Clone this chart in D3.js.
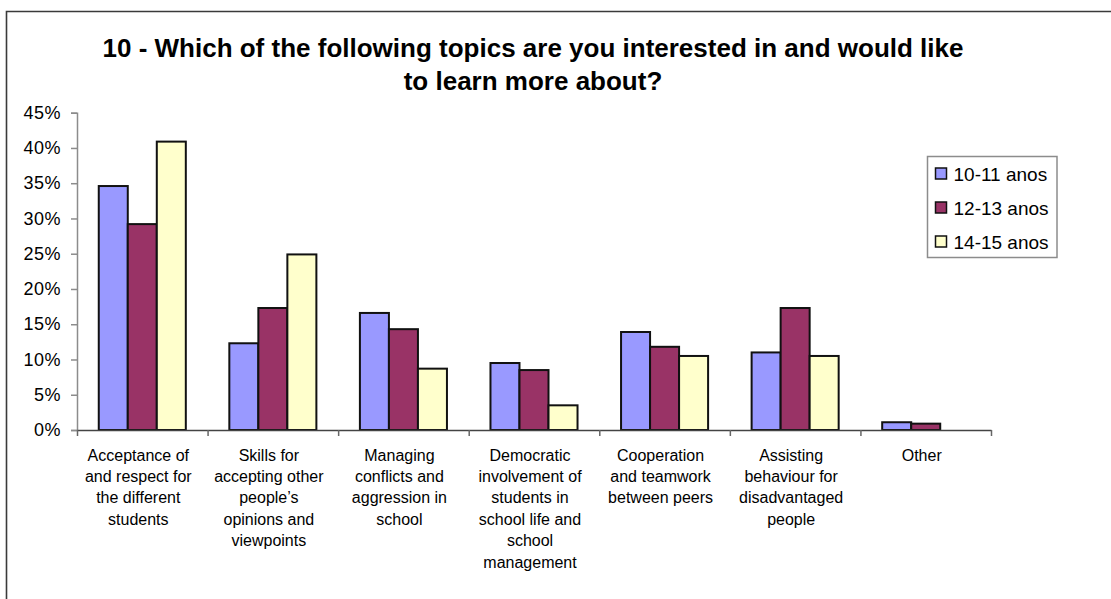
<!DOCTYPE html>
<html>
<head>
<meta charset="utf-8">
<script src="https://cdn.jsdelivr.net/npm/d3@7"></script>
<style>
  html, body { margin: 0; padding: 0; background: #fff; }
  svg { display: block; }
</style>
</head>
<body>
<div id="chart"></div>
<script>
// Survey question 10 — grouped bars by age group

const TITLE = [
  '10 - Which of the following topics are you interested in and would like',
  'to learn more about?'
];

const categories = [
  ['Acceptance of', 'and respect for', 'the different', 'students'],
  ['Skills for', 'accepting other', 'people\u2019s', 'opinions and', 'viewpoints'],
  ['Managing', 'conflicts and', 'aggression in', 'school'],
  ['Democratic', 'involvement of', 'students in', 'school life and', 'school', 'management'],
  ['Cooperation', 'and teamwork', 'between peers'],
  ['Assisting', 'behaviour for', 'disadvantaged', 'people'],
  ['Other']
];

const seriesNames = ['10-11 anos', '12-13 anos', '14-15 anos'];

const age10_11 = [0.346, 0.123, 0.166, 0.095, 0.139, 0.110, 0.011];
const age12_13 = [0.292, 0.173, 0.143, 0.085, 0.118, 0.173, 0.009];
const age14_15 = [0.409, 0.249, 0.087, 0.035, 0.105, 0.105, 0.000];

const yTicks = [0, 0.05, 0.10, 0.15, 0.20, 0.25, 0.30, 0.35, 0.40, 0.45];

const COLORS = ['#9999FF', '#993366', '#FFFFCC'];
const FONT = "Arial, 'Liberation Sans', sans-serif";

const W = 1111, H = 599;
const plot = { left: 77, right: 991, top: 112.7, bottom: 430 };

const svg = d3.select('#chart').append('svg')
  .attr('width', W)
  .attr('height', H);

// chart frame (cut off at right and bottom)
svg.append('path')
  .attr('d', `M6.5,${H} V11.5 H${W}`)
  .attr('fill', 'none')
  .attr('stroke', '#3a3a3a')
  .attr('stroke-width', 1.6);

// Title
svg.append('text')
  .attr('text-anchor', 'middle')
  .style('font-family', FONT)
  .style('font-weight', 'bold')
  .style('font-size', '26px')
  .style('fill', '#000')
  .selectAll('tspan')
  .data(TITLE)
  .join('tspan')
  .attr('x', 533)
  .attr('y', (d, i) => 57 + i * 33)
  .text(d => d);

const idx = d3.range(categories.length);

const x0 = d3.scaleBand()
  .domain(idx)
  .range([plot.left, plot.right])
  .paddingInner(0)
  .paddingOuter(0);

const x1 = d3.scaleBand()
  .domain(d3.range(seriesNames.length))
  .range([0, x0.bandwidth()])
  .paddingInner(0)
  .paddingOuter(0.75);

const y = d3.scaleLinear()
  .domain([0, 0.45])
  .range([plot.bottom, plot.top]);

// Y axis
const yAxis = svg.append('g')
  .attr('transform', `translate(${plot.left},0)`)
  .call(d3.axisLeft(y)
    .tickValues(yTicks)
    .tickSize(6)
    .tickPadding(10)
    .tickFormat(d3.format('.0%')));
yAxis.select('.domain').attr('stroke', '#8c8c8c').attr('stroke-width', 1.5);
yAxis.selectAll('.tick line').attr('stroke', '#8c8c8c').attr('stroke-width', 1.5);
yAxis.selectAll('text')
  .style('font-family', FONT)
  .style('font-size', '18px')
  .style('letter-spacing', '0.5px')
  .style('fill', '#000');

// Bars
const data = [age10_11, age12_13, age14_15];
const groups = svg.append('g')
  .selectAll('g')
  .data(idx)
  .join('g')
  .attr('transform', i => `translate(${x0(i)},0)`);

groups.selectAll('rect')
  .data(i => data.map((s, k) => ({ k, v: s[i] })).filter(d => d.v > 0))
  .join('rect')
  .attr('x', d => x1(d.k))
  .attr('y', d => y(d.v))
  .attr('width', x1.bandwidth())
  .attr('height', d => y(0) - y(d.v))
  .attr('fill', d => COLORS[d.k])
  .attr('stroke', '#111')
  .attr('stroke-width', 2);

// X axis: line with ticks between categories
const xEdge = d3.scaleLinear().domain([0, categories.length]).range([plot.left, plot.right]);
const xAxis = svg.append('g')
  .attr('transform', `translate(0,${plot.bottom})`)
  .call(d3.axisBottom(xEdge)
    .tickValues(d3.range(categories.length + 1))
    .tickSize(6)
    .tickSizeOuter(0)
    .tickFormat(''));
xAxis.select('.domain').attr('stroke', '#444').attr('stroke-width', 1.5);
xAxis.selectAll('.tick line').attr('stroke', '#666').attr('stroke-width', 1.5);

// Category labels
const catAxis = svg.append('g')
  .attr('transform', `translate(0,${plot.bottom})`)
  .call(d3.axisBottom(x0).tickSize(0).tickFormat(''));
catAxis.select('.domain').remove();
catAxis.selectAll('.tick text')
  .attr('y', 0)
  .attr('dy', null)
  .attr('text-anchor', 'middle')
  .style('font-family', FONT)
  .style('font-size', '16px')
  .style('fill', '#000')
  .selectAll('tspan')
  .data(i => categories[i])
  .join('tspan')
  .attr('x', -4)
  .attr('y', (d, j) => 30.5 + j * 21.4)
  .text(d => d);

// Legend
const legend = svg.append('g').attr('transform', 'translate(927.5,156.5)');
legend.append('rect')
  .attr('width', 129.5)
  .attr('height', 101)
  .attr('fill', '#fff')
  .attr('stroke', '#8c8c8c')
  .attr('stroke-width', 1.5);

const items = legend.selectAll('.item')
  .data(seriesNames)
  .join('g')
  .attr('class', 'item')
  .attr('transform', (d, i) => `translate(8,${17 + i * 34})`);

items.append('rect')
  .attr('x', 0)
  .attr('y', -5.5)
  .attr('width', 11)
  .attr('height', 11)
  .attr('fill', (d, i) => COLORS[i])
  .attr('stroke', '#111')
  .attr('stroke-width', 1.5);

items.append('text')
  .attr('x', 18)
  .attr('y', 7)
  .style('font-family', FONT)
  .style('font-size', '19px')
  .style('fill', '#000')
  .text(d => d);
</script>
</body>
</html>
